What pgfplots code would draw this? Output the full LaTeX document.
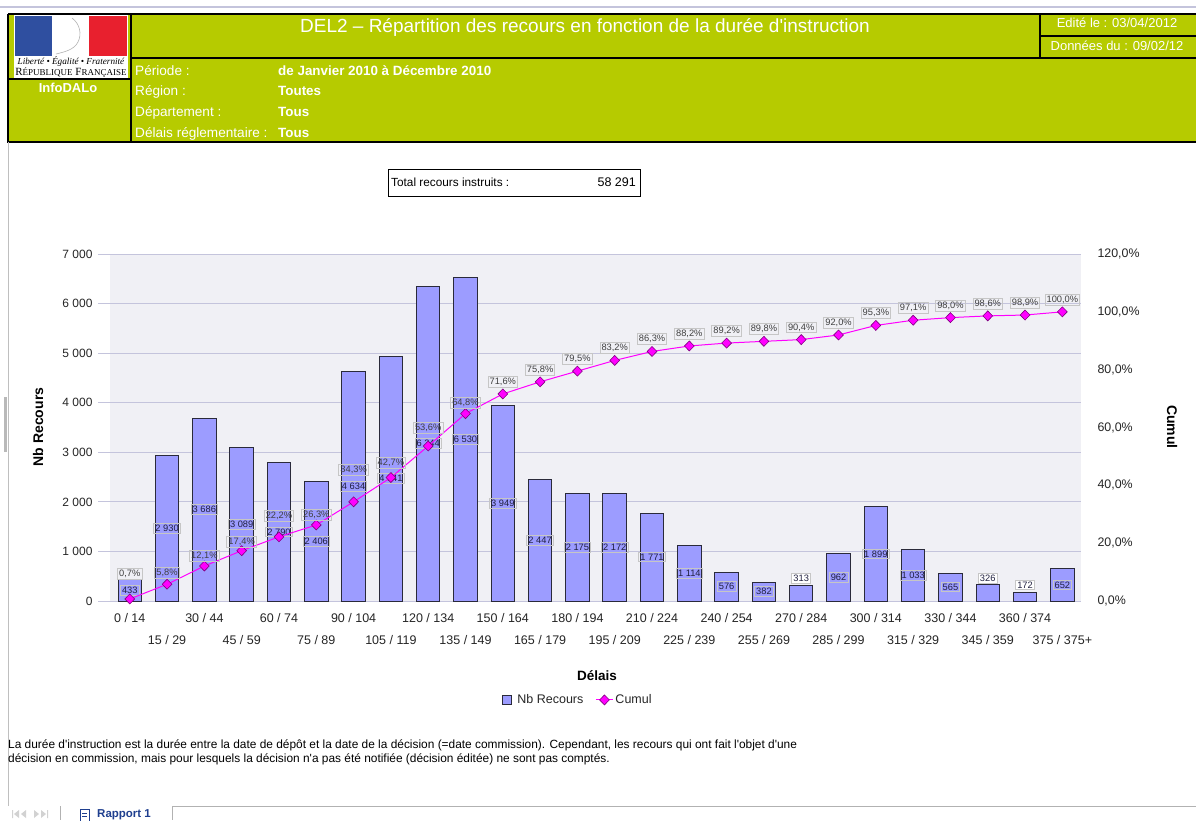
\documentclass[border=0pt]{standalone}
\usepackage{pgfplots}
\pgfplotsset{compat=1.18}
\usepackage{pgfplotstable}
\usepackage{fontspec}
\setmainfont{Liberation Sans}
\newfontfamily\seriffont{Liberation Serif}
\definecolor{hdrgreen}{HTML}{B6CB00}
\definecolor{plotbg}{HTML}{F0F0F5}
\definecolor{gridc}{HTML}{C4C4DC}
\definecolor{barfill}{HTML}{9C9CFF}
\definecolor{bardraw}{HTML}{2A2A3A}
\definecolor{mag}{HTML}{FF00FF}
\definecolor{markdraw}{HTML}{800080}
\definecolor{lblgray}{HTML}{C6C6C6}
\definecolor{lbltext}{HTML}{202040}
\definecolor{logoblue}{HTML}{2F4FA0}
\definecolor{logored}{HTML}{E8202E}
\definecolor{tabblue}{HTML}{1F3F8F}
\newcommand{\fs}[1]{\fontsize{#1}{#1}\selectfont}
\newcommand{\lo}[1]{\raisebox{-22pt}{#1}}
\newcommand{\q}{\textquotesingle}

\pgfplotstableread{
x n ly out cum cly
0 433 216 0 0.7 9.3
1 2930 1465 0 5.8 9.7
2 3686 1843 0 12.1 15.6
3 3089 1545 0 17.4 20.4
4 2790 1395 0 22.2 29.4
5 2406 1203 0 26.3 29.7
6 4634 2317 0 34.3 45.3
7 4941 2471 0 42.7 47.7
8 6344 3172 0 53.6 59.8
9 6530 3265 0 64.8 68.5
10 3949 1975 0 71.6 75.8
11 2447 1224 0 75.8 80.0
12 2175 1088 0 79.5 83.7
13 2172 1086 0 83.2 87.4
14 1771 886 0 86.3 90.5
15 1114 557 0 88.2 92.4
16 576 288 0 89.2 93.4
17 382 191 0 89.8 94.0
18 313 464 1 90.4 94.6
19 962 481 0 92.0 96.2
20 1899 950 0 95.3 99.5
21 1033 517 0 97.1 101.3
22 565 283 0 98.0 102.2
23 326 464 1 98.6 102.8
24 172 323 1 98.9 103.1
25 652 326 0 100.0 104.2
}\data

\begin{document}
\begin{tikzpicture}[x=1pt,y=1pt]
\useasboundingbox (0,0) rectangle (1196,-820);
\clip (0,0) rectangle (1196,-820);
\fill[white] (0,0) rectangle (1196,-820);
% top line
\draw[color=gridc, line width=1.5pt] (0,-7) -- (1196,-7);
% header
\fill[hdrgreen] (8,-14) rectangle (1196,-142);
\fill[white] (14,-15) rectangle (128,-78);
\fill[logoblue] (15,-16) rectangle (52,-56);
\fill[logored] (89,-16) rectangle (127,-56);
\draw[gray!60, line width=0.6pt] (72,-18) .. controls (80,-24) and (82,-34) .. (78,-42) .. controls (74,-50) and (64,-52) .. (56,-54);
\node[font=\seriffont\itshape\fs{9.2}, inner sep=0] at (71,-62) {Liberté • Égalité • Fraternité};
\node[font=\seriffont\fs{11}, inner sep=0] at (71,-73) {R{\fs{9}ÉPUBLIQUE} F{\fs{9}RANÇAISE}};
\draw[black, line width=1.4pt] (8,-14) -- (1196,-14) (8,-14) -- (8,-142) -- (1196,-142)
  (131,-14) -- (131,-142) (131,-58) -- (1196,-58) (1040,-14) -- (1040,-58)
  (1040,-36) -- (1196,-36) (8,-79) -- (131,-79);
\node[text=white, font=\bfseries\fs{13}] at (68,-88) {InfoDALo};
\node[text=white, font=\fs{19}] at (585,-27) {DEL2 – Répartition des recours en fonction de la durée d\q instruction};
\node[text=white, font=\fs{13}] at (1117,-23) {Edité le : 03/04/2012};
\node[text=white, font=\fs{13}] at (1117,-46) {Données du : 09/02/12};
\node[text=white, font=\fs{13.6}, anchor=base west, inner sep=0] at (135,-75) {Période :};
\node[text=white, font=\fs{13.6}, anchor=base west, inner sep=0] at (135,-95) {Région :};
\node[text=white, font=\fs{13.6}, anchor=base west, inner sep=0] at (135,-116) {Département :};
\node[text=white, font=\fs{13.6}, anchor=base west, inner sep=0] at (135,-137) {Délais réglementaire :};
\node[text=white, font=\bfseries\fs{13.4}, anchor=base west, inner sep=0] at (278,-75) {de Janvier 2010 à Décembre 2010};
\node[text=white, font=\bfseries\fs{13.4}, anchor=base west, inner sep=0] at (278,-95) {Toutes};
\node[text=white, font=\bfseries\fs{13.4}, anchor=base west, inner sep=0] at (278,-116) {Tous};
\node[text=white, font=\bfseries\fs{13.4}, anchor=base west, inner sep=0] at (278,-137) {Tous};
% left border
\draw[color=gray!50, line width=1pt] (8,-142) -- (8,-806);
\fill[gray!55] (4,-397) rectangle (7,-452);
% total box
\draw[black, line width=0.8pt] (388,-169) rectangle (640,-196);
\node[font=\fs{11.8}, anchor=west, inner sep=0] at (391,-182) {Total recours instruits :};
\node[font=\fs{12.5}, anchor=east, inner sep=0] at (636,-182) {58 291};
% axis titles
\node[font=\bfseries\fs{14}, rotate=90] at (38,-427) {Nb Recours};
\node[font=\bfseries\fs{14}, rotate=-90] at (1172,-427) {Cumul};
\node[font=\bfseries\fs{13.5}] at (597,-676) {Délais};
% footnote
\node[font=\fs{11.9}, anchor=base west, inner sep=0] at (8,-748) {La durée d\q instruction est la durée entre la date de dépôt et la date de la décision (=date commission). Cependant, les recours qui ont fait l\q objet d\q une};
\node[font=\fs{11.9}, anchor=base west, inner sep=0] at (8,-762) {décision en commission, mais pour lesquels la décision n\q a pas été notifiée (décision éditée) ne sont pas comptés.};
% bottom tabs
\draw[color=gray!60, line width=1pt] (172,-806) -- (1196,-806) (172,-806) -- (172,-820) (60,-806) -- (60,-820);
\fill[gray!35] (12,-810) rectangle (13,-818) (19,-810) -- (14,-814) -- (19,-818) -- cycle
  (26,-810) -- (21,-814) -- (26,-818) -- cycle (34,-810) -- (39,-814) -- (34,-818) -- cycle
  (41,-810) -- (46,-814) -- (41,-818) -- cycle (47,-810) rectangle (48,-818);
\draw[color=tabblue, line width=0.7pt] (80,-809) rectangle (89,-821);
\draw[color=tabblue, line width=0.6pt] (82,-813) -- (87,-813) (82,-816) -- (87,-816);
\node[font=\bfseries\fs{11.5}, text=tabblue, anchor=base west, inner sep=0] at (97,-817) {Rapport 1};

% ---------- main axis ----------
\begin{axis}[
  at={(110pt,-601pt)}, anchor=south west,
  width=971pt, height=347pt, scale only axis,
  xmin=-0.53, xmax=25.5, ymin=0, ymax=7000,
  clip=false,
  ytick={0,1000,...,7000},
  xtick={0,...,25},
  xticklabels={0 / 14, \lo{15 / 29}, 30 / 44, \lo{45 / 59}, 60 / 74, \lo{75 / 89}, 90 / 104, \lo{105 / 119}, 120 / 134, \lo{135 / 149}, 150 / 164, \lo{165 / 179}, 180 / 194, \lo{195 / 209}, 210 / 224, \lo{225 / 239}, 240 / 254, \lo{255 / 269}, 270 / 284, \lo{285 / 299}, 300 / 314, \lo{315 / 329}, 330 / 344, \lo{345 / 359}, 360 / 374, \lo{375 / 375+}},
  xticklabel style={anchor=base, yshift=-9pt, font=\fs{12.5}, text=black!85},
  yticklabel style={font=\fs{12}, text=black!85, xshift=-2pt},
  ymajorgrids, grid style={color=gridc, line width=1pt},
  axis background/.style={fill=plotbg},
  axis line style={draw=none},
  tick align=outside, major tick length=12pt,
  ytick pos=left,
  ytick style={color=gridc, line width=1pt},
  xtick style={draw=none},
  scaled y ticks=false,
  legend style={at={(0.482,-0.285)}, anchor=center, draw=none, fill=none,
    legend columns=2, font=\fs{12.5}, text=black!85,
    /tikz/every even column/.append style={column sep=10pt}},
  legend cell align=left,
  /pgf/number format/1000 sep={\ },
  /pgf/number format/assume math mode=true,
]
\addplot[ybar, bar width=0.63, fill=barfill, draw=bardraw, line width=1pt,
  legend image code/.code={\draw[fill=barfill, draw=bardraw, line width=1pt] (-4pt,-4.5pt) rectangle (5pt,4.5pt);}]
  table[x=x, y=n]{\data};
\addlegendentry{\hspace{3pt}Nb Recours}
\addplot[draw=none, mark=none, forget plot, point meta=explicit,
  restrict expr to domain={\thisrow{out}}{0:0},
  nodes near coords={\pgfmathprintnumber[fixed,precision=0,1000 sep={\ }]{\pgfplotspointmeta}},
  every node near coord/.append style={anchor=center, font=\fs{9.3}, text=lbltext, draw=lblgray, line width=0.8pt, inner sep=1.6pt}]
  table[x=x, y=ly, meta=n]{\data};
\addplot[draw=none, mark=none, forget plot, point meta=explicit,
  restrict expr to domain={\thisrow{out}}{1:1},
  nodes near coords={\pgfmathprintnumber[fixed,precision=0,1000 sep={\ }]{\pgfplotspointmeta}},
  every node near coord/.append style={anchor=center, font=\fs{9.3}, text=lbltext, draw=lblgray, fill=white, line width=0.8pt, inner sep=1.6pt}]
  table[x=x, y=ly, meta=n]{\data};
\addlegendimage{draw=mag, line width=1pt, mark=diamond*, mark size=5pt, mark options={fill=mag, draw=markdraw, line width=0.6pt, xscale=1.3}}
\addlegendentry{Cumul}
\end{axis}

% ---------- cumul axis ----------
\begin{axis}[
  at={(110pt,-601pt)}, anchor=south west,
  width=971pt, height=347pt, scale only axis,
  xmin=-0.53, xmax=25.5, ymin=0, ymax=120,
  clip=false,
  axis y line*=right, axis x line=none,
  y axis line style={draw=none}, ytick style={draw=none},
  ytick={0,20,...,120},
  yticklabel={\pgfmathprintnumber[fixed,fixed zerofill,precision=1,use comma]{\tick}\%},
  yticklabel style={font=\fs{12.4}, text=black!85, xshift=13pt},
  /pgf/number format/assume math mode=true,
]
\addplot[draw=mag, line width=1pt, mark=diamond*, mark size=5pt,
  mark options={fill=mag, draw=markdraw, line width=0.6pt, xscale=1.3}]
  table[x=x, y=cum]{\data};
\addplot[draw=none, mark=none, point meta=explicit,
  nodes near coords={\pgfmathprintnumber[fixed,fixed zerofill,precision=1,use comma]{\pgfplotspointmeta}\%},
  every node near coord/.append style={anchor=center, font=\fs{9.3}, text=black!75, draw=lblgray, line width=0.8pt, inner sep=1.6pt}]
  table[x=x, y=cly, meta=cum]{\data};
\end{axis}
\end{tikzpicture}
\end{document}
